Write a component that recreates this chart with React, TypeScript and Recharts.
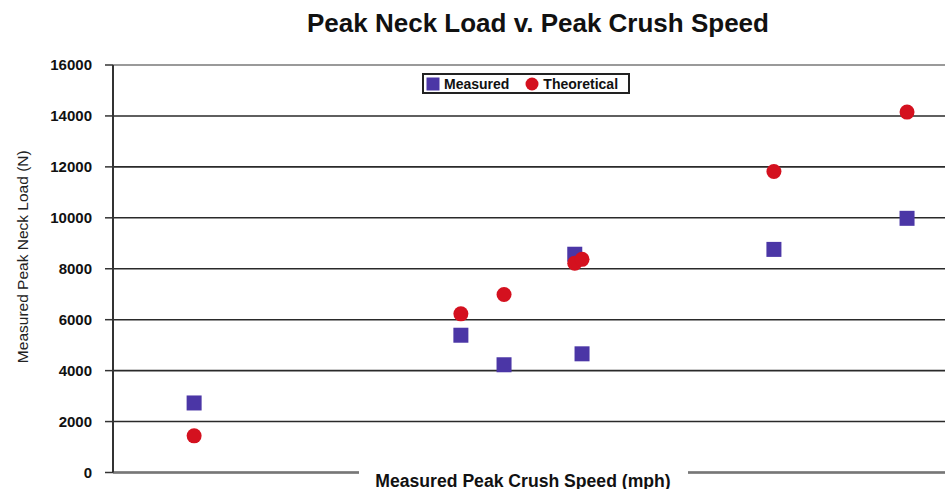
import { ScatterChart, Scatter, XAxis, YAxis, CartesianGrid, Legend, Label, ReferenceLine } from 'recharts';

// Values (x has no tick labels, so it's a relative speed scale)
const measuredSpeed = [1.56, 6.69, 7.52, 8.88, 9.02, 12.71, 15.27];
const measuredLoad = [2730, 5390, 4230, 8570, 4660, 8760, 9980];
const theoreticalSpeed = [1.56, 6.69, 7.52, 8.88, 9.02, 12.71, 15.27];
const theoreticalLoad = [1440, 6230, 6990, 8220, 8370, 11820, 14150];
const loadTicks = [0, 2000, 4000, 6000, 8000, 10000, 12000, 14000, 16000];

const FONT = '"Liberation Sans", Arial, sans-serif';
const MEASURED_COLOR = '#4B36A6';
const THEORETICAL_COLOR = '#D4111F';

const measuredData = measuredSpeed.map((x, i) => ({ x, y: measuredLoad[i] }));
const theoreticalData = theoreticalSpeed.map((x, i) => ({ x, y: theoreticalLoad[i] }));

const SquareDot = (props: any) => {
    const { cx, cy } = props;
    return <rect x={cx - 7.5} y={cy - 7.5} width={15} height={15} fill={MEASURED_COLOR} />;
};

const RoundDot = (props: any) => {
    const { cx, cy } = props;
    return <circle cx={cx} cy={cy} r={7.5} fill={THEORETICAL_COLOR} />;
};

const XTitle = (props: any) => {
    const { viewBox } = props;
    const mid = viewBox.x + viewBox.width / 2 - 6;
    return (
        <g>
            <rect x={mid - 164} y={viewBox.y - 6} width={329} height={30} fill="#fff" />
            <text x={mid} y={viewBox.y + 14} textAnchor="middle" fontFamily={FONT} fontWeight="bold" fontSize={17.6} fill="#111">
                Measured Peak Crush Speed (mph)
            </text>
        </g>
    );
};

const YTitle = (props: any) => {
    const { viewBox } = props;
    const cy = viewBox.y + viewBox.height / 2 - 12;
    return (
        <text x={22} y={cy} transform={`rotate(-90, 22, ${cy})`} textAnchor="middle" dominantBaseline="central"
            fontFamily={FONT} fontSize={15.5} fill="#222">
            Measured Peak Neck Load (N)
        </text>
    );
};

const LegendBox = (props: any) => {
    const { payload } = props;
    return (
        <div style={{
            display: 'flex', alignItems: 'center', height: 21, boxSizing: 'border-box',
            border: '2px solid #222', paddingLeft: 2, fontFamily: FONT, fontWeight: 'bold', fontSize: 14, color: '#111', background: '#fff'
        }}>
            {payload.map((entry: any, i: number) => (
                <div key={entry.value} style={{ display: 'flex', alignItems: 'center', marginLeft: i === 0 ? 0 : 16 }}>
                    <svg width={14} height={14} style={{ marginRight: 4 }}>
                        {entry.value === 'Measured'
                            ? <rect x={0.5} y={0.5} width={13} height={13} fill={MEASURED_COLOR} />
                            : <circle cx={7} cy={7} r={6.5} fill={THEORETICAL_COLOR} />}
                    </svg>
                    <span>{entry.value}</span>
                </div>
            ))}
        </div>
    );
};

const App = () => {
    return (
        <div style={{ position: 'absolute', left: 0, top: 0, width: 945, height: 489, background: '#fff' }}>
            <div style={{
                position: 'absolute', left: 238, top: 10, width: 600, textAlign: 'center',
                fontFamily: FONT, fontWeight: 'bold', fontSize: 26, lineHeight: '26px', color: '#111'
            }}>
                Peak Neck Load v. Peak Crush Speed
            </div>
            <ScatterChart width={945} height={489} margin={{ top: 65, right: 0, bottom: 0, left: 0 }}>
                <CartesianGrid vertical={false} stroke="#2a2a2a" strokeWidth={1.6} />
                <ReferenceLine y={16000} stroke="#9a9a9a" strokeWidth={2} />
                <XAxis type="number" dataKey="x" domain={[0, 16]} height={16.5} tick={false} tickLine={false}
                    axisLine={{ stroke: '#777', strokeWidth: 2.5 }}>
                    <Label content={XTitle} />
                </XAxis>
                <YAxis type="number" dataKey="y" domain={[0, 16000]} ticks={loadTicks} width={113}
                    tickSize={8} tickMargin={13} interval={0}
                    axisLine={{ stroke: '#333', strokeWidth: 2 }} tickLine={{ stroke: '#333', strokeWidth: 1.5 }}
                    tick={{ fontFamily: FONT, fontWeight: 'bold', fontSize: 15, fill: '#111' }}>
                    <Label content={YTitle} />
                </YAxis>
                <Legend layout="horizontal" verticalAlign="middle" align="center" content={LegendBox}
                    wrapperStyle={{ left: 422, top: 73, width: 208 }} />
                <Scatter name="Measured" data={measuredData} shape={SquareDot} isAnimationActive={false} />
                <Scatter name="Theoretical" data={theoreticalData} shape={RoundDot} isAnimationActive={false} />
            </ScatterChart>
        </div>
    );
};

export default App;
